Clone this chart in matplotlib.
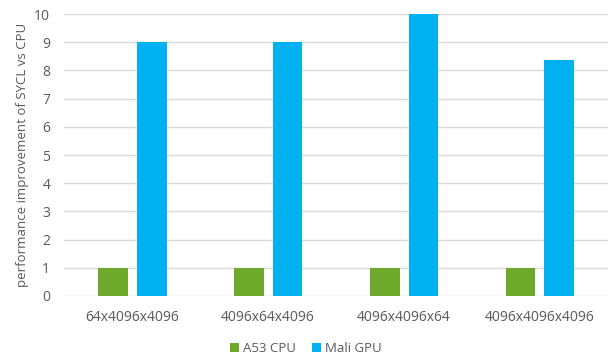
import numpy as np
import matplotlib
matplotlib.use("Agg")
import matplotlib.pyplot as plt

categories = ["64x4096x4096", "4096x64x4096", "4096x4096x64", "4096x4096x4096"]
a53_cpu = [1, 1, 1, 1]
mali_gpu = [9, 9, 10, 8.37]

GREEN = "#6DAA2C"
BLUE = "#00B0F0"
TEXT = "#595959"
GRID = "#D9D9D9"

plt.rcParams['font.family'] = ['Open Sans', 'DejaVu Sans']

fig = plt.figure(figsize=(6.11, 3.63), dpi=100)
ax = fig.add_axes([0.105, 0.185, 0.89, 0.776])

x = np.arange(len(categories))
w = 0.22
ax.bar(x - 0.143, a53_cpu, w, color=GREEN, label="A53 CPU", zorder=3)
ax.bar(x + 0.143, mali_gpu, w, color=BLUE, label="Mali GPU", zorder=3)

ax.set_xlim(-0.5, len(categories) - 0.5)
ax.set_ylim(0, 10)
ax.set_yticks(range(0, 11))
ax.set_xticks(x)
ax.set_xticklabels(categories)
ax.grid(axis='y', color=GRID, linewidth=1, zorder=0)
for s in ax.spines.values():
    s.set_visible(False)
ax.tick_params(axis='both', length=0, colors=TEXT, labelsize=10)
ax.tick_params(axis='x', pad=10)
ax.tick_params(axis='y', pad=10)
ax.set_ylabel("performance improvement of SYCL vs CPU", color=TEXT, fontsize=9.5, labelpad=4)

fig.legend(loc='lower center', bbox_to_anchor=(0.5, -0.01), ncol=2, frameon=False,
           fontsize=9.5, labelcolor=TEXT, handlelength=0.7, handleheight=0.7,
           handletextpad=0.3, columnspacing=1.2)

fig.savefig("out.png", dpi=100)
